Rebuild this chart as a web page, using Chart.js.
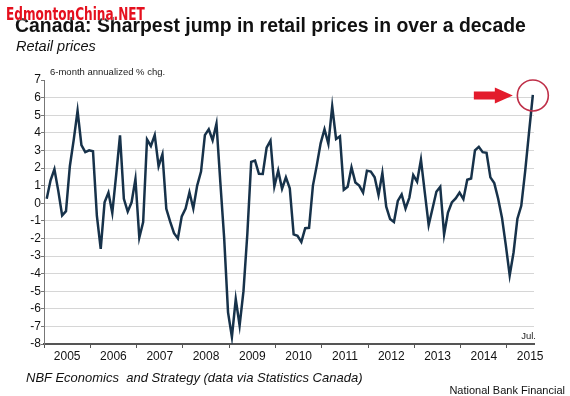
<!DOCTYPE html>
<html>
<head>
<meta charset="utf-8">
<script src="https://cdn.jsdelivr.net/npm/chart.js@4/dist/chart.umd.min.js"></script>
<style>
  html, body { margin: 0; padding: 0; background: #fff; }
  #wrap { position: relative; width: 570px; height: 396px; overflow: hidden;
          font-family: "Liberation Sans", Arial, sans-serif; color: #111; }
  #wrap canvas { position: absolute; left: 0; top: 0; }
  .txt { position: absolute; white-space: nowrap; line-height: 1; }
  #mark { left: 6px; top: 5.2px; font-family: "Liberation Sans Narrow", "DejaVu Sans Condensed", sans-serif;
          font-weight: bold; font-size: 18px; color: #e5101e; z-index: 3; transform-origin: 0 0;
          text-shadow: 0 0 2px #fff, 0 0 1px #fff; }
  #title { left: 15px; top: 15.6px; font-size: 19.4px; font-weight: bold; z-index: 2; }
  #sub { left: 16px; top: 38.7px; font-size: 14.5px; font-style: italic; }
  #source { left: 26px; top: 371px; font-size: 13px; font-style: italic; }
  #bank { right: 5px; top: 384.7px; font-size: 11px; }
</style>
</head>
<body>
<div id="wrap">
  <canvas id="chart" width="570" height="396"></canvas>
  <div class="txt" id="mark">EdmontonChina.NET</div>
  <div class="txt" id="title">Canada: Sharpest jump in retail prices in over a decade</div>
  <div class="txt" id="sub">Retail prices</div>
  <div class="txt" id="source">NBF Economics&nbsp; and Strategy (data via Statistics Canada)</div>
  <div class="txt" id="bank">National Bank Financial</div>
</div>
<script>
// monthly, Jan 2005 .. Jul 2015
const years = ['2005', '2006', '2007', '2008', '2009', '2010', '2011', '2012', '2013', '2014', '2015'];
const retailPrices = [
  0.25, 1.3, 1.93, 0.7, -0.7, -0.45, 2.1, 3.6, 5.25, 3.3, 2.9, 3.0,
  2.95, -0.7, -2.6, 0.05, 0.6, -0.55, 1.6, 3.85, 0.25, -0.48, 0.05, 1.37,
  -1.96, -1.07, 3.62, 3.25, 3.87, 2.1, 2.78, -0.32, -1.05, -1.7, -2.0, -0.75,
  -0.3, 0.62, -0.3, 1.0, 1.8, 3.87, 4.2, 3.58, 4.52, 1.2, -2.0, -6.2,
  -7.6, -5.45, -6.95, -5.0, -1.75, 2.35, 2.42, 1.67, 1.66, 3.15, 3.55, 0.95,
  1.85, 0.82, 1.47, 0.85, -1.77, -1.85, -2.2, -1.42, -1.4, 1.0, 2.15, 3.4,
  4.2, 3.37, 5.5, 3.65, 3.8, 0.76, 0.93, 2.04, 1.18, 1.0, 0.6, 1.85,
  1.8, 1.47, 0.46, 1.72, -0.2, -0.9, -1.07, 0.13, 0.5, -0.3, 0.32, 1.6,
  1.22, 2.47, 0.6, -1.24, -0.3, 0.65, 0.93, -1.77, -0.53, 0.04, 0.27, 0.6,
  0.23, 1.33, 1.4, 3.0, 3.2, 2.9, 2.86, 1.47, 1.14, 0.27, -0.82, -2.4,
  -4.1, -2.8, -0.88, -0.15, 1.8, 4.0, 6.15
];
const yMin = -8, yMax = 7;

// squeeze the watermark to the width it has in the picture
const mark = document.getElementById('mark');
mark.style.transform = 'scaleX(' + (139 / mark.offsetWidth) + ')';

Chart.defaults.font.family = '"Liberation Sans", Arial, sans-serif';
Chart.defaults.color = '#222';

// arrow, ring and the two small axis notes
const notes = {
  id: 'notes',
  afterDatasetsDraw(chart) {
    const {ctx, chartArea} = chart;
    const pts = chart.getDatasetMeta(0).data;
    const last = pts[pts.length - 1];
    ctx.save();
    ctx.beginPath();
    ctx.arc(last.x, last.y + 0.5, 15.5, 0, Math.PI * 2);
    ctx.strokeStyle = '#bf2f48';
    ctx.lineWidth = 1.6;
    ctx.stroke();

    const tip = last.x - 20, ay = last.y + 0.5;
    ctx.beginPath();
    ctx.moveTo(tip - 39, ay - 4);
    ctx.lineTo(tip - 18, ay - 4);
    ctx.lineTo(tip - 18, ay - 8);
    ctx.lineTo(tip, ay);
    ctx.lineTo(tip - 18, ay + 8);
    ctx.lineTo(tip - 18, ay + 4);
    ctx.lineTo(tip - 39, ay + 4);
    ctx.closePath();
    ctx.fillStyle = '#e31b2c';
    ctx.fill();

    ctx.fillStyle = '#222';
    ctx.font = '9.5px "Liberation Sans", Arial, sans-serif';
    ctx.textAlign = 'left';
    ctx.fillText('6-month annualized % chg.', chartArea.left + 6, chartArea.top - 5);
    ctx.textAlign = 'right';
    ctx.fillText('Jul.', chartArea.right + 2, chartArea.bottom - 5);
    ctx.restore();
  }
};

new Chart(document.getElementById('chart'), {
  type: 'line',
  data: {
    datasets: [{
      data: retailPrices.map((v, i) => ({x: i + 0.7, y: v})),
      borderColor: '#17324a',
      borderWidth: 2.5,
      pointRadius: 0,
      tension: 0,
      fill: false
    }]
  },
  options: {
    responsive: false,
    animation: false,
    devicePixelRatio: 1,
    layout: {padding: {top: 80, right: 36, bottom: 30, left: 0}},
    plugins: {legend: {display: false}, tooltip: {enabled: false}},
    scales: {
      x: {
        type: 'linear',
        min: 0,
        max: retailPrices.length,
        afterFit: s => { s.height = 22; },
        afterBuildTicks: s => {
          s.ticks = years.flatMap((y, k) => [{value: k * 12}, {value: k * 12 + 6}]);
        },
        ticks: {
          autoSkip: false,
          maxRotation: 0,
          padding: 1,
          color: '#111',
          font: {size: 12},
          callback: v => (v % 12 === 6 ? years[(v - 6) / 12] : '')
        },
        grid: {
          drawOnChartArea: false,
          tickLength: 4,
          tickColor: c => (c.tick && c.tick.value % 12 === 0 ? '#555' : 'rgba(0,0,0,0)')
        },
        border: {color: '#555', width: 2}
      },
      y: {
        min: yMin,
        max: yMax,
        afterFit: s => { s.width = 44; },
        ticks: {stepSize: 1, padding: 0, color: '#111', font: {size: 12}},
        grid: {
          color: c => (c.tick && (c.tick.value === yMax || c.tick.value === yMin) ? 'rgba(0,0,0,0)' : '#d6d6d6'),
          lineWidth: 1,
          tickLength: 3,
          tickColor: '#777'
        },
        border: {color: '#777', width: 1}
      }
    }
  },
  plugins: [notes]
});
</script>
</body>
</html>
